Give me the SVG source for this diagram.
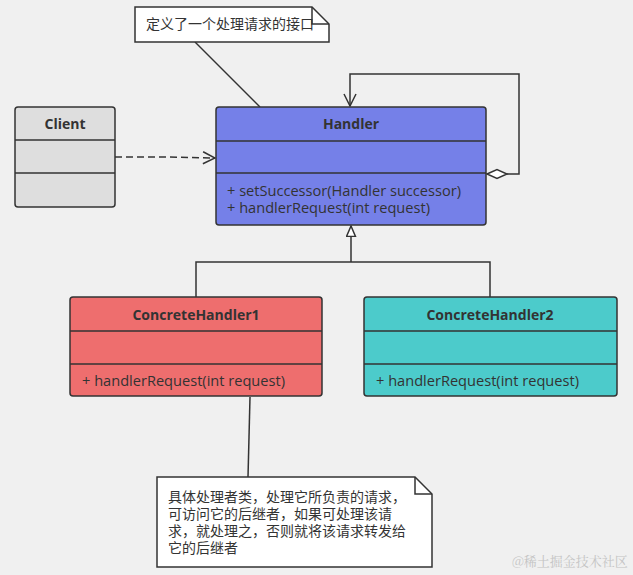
<svg xmlns="http://www.w3.org/2000/svg" width="633" height="575" viewBox="0 0 633 575">
<defs>
<style>
.box{stroke:#333;stroke-width:1.5}
.div{stroke:#333;stroke-width:1.5;fill:none}
.ln{stroke:#333;stroke-width:1.5;fill:none}
.title{font-family:"Open Sans","Liberation Sans",sans-serif;font-weight:bold;font-size:14px;fill:#333;text-anchor:middle}
.m{font-family:"Open Sans","Liberation Sans",sans-serif;font-size:14.6px;fill:#333}
.cn{font-family:"Noto Sans CJK SC",sans-serif;font-size:14px;fill:#333}
</style>
<marker id="open" markerWidth="14" markerHeight="14" refX="13" refY="7" orient="auto" markerUnits="userSpaceOnUse">
<path d="M1,1 L13,7 L1,13" fill="none" stroke="#333" stroke-width="1.5"/>
</marker>
<marker id="tri" markerWidth="12" markerHeight="16" refX="11" refY="5" orient="auto" markerUnits="userSpaceOnUse">
<path d="M11,5 L0.5,0.5 L0.5,9.5 Z" fill="#fff" stroke="#333" stroke-width="1.5"/>
</marker>
</defs>
<rect width="633" height="575" fill="#f0f0f0"/>

<g id="connectors">
<path class="ln" d="M195,42 L260,107"/>
<path class="ln" d="M115,157 L165,157 L215,158" stroke-dasharray="7,4" marker-end="url(#open)"/>
<path class="ln" d="M507,174 L519,174 L519,74 L350,74 L350,106" marker-end="url(#open)"/>
<path d="M487,174 L497,169.5 L507,174 L497,178.5 Z" fill="#fff" stroke="#333" stroke-width="1.5"/>
<path class="ln" d="M196,297 L196,262 L490,262 L490,297"/>
<path class="ln" d="M351,262 L351,226" marker-end="url(#tri)"/>
<path class="ln" d="M250,397 L248,477"/>
</g>

<g id="note-top">
<path class="box" fill="#fff" d="M135,7 L312,7 L329,24 L329,42 L135,42 Z"/>
<path class="ln" d="M312,7 L312,24 L329,24"/>
<text class="cn" x="146" y="29" font-size="14.5">定义了一个处理请求的接口</text>
</g>

<g id="client">
<rect class="box" x="15" y="107" width="100" height="100" rx="3" fill="#dedede"/>
<path class="div" d="M15,140 H115 M15,173 H115"/>
<text class="title" x="65" y="129">Client</text>
</g>

<g id="handler">
<rect class="box" x="216" y="107" width="270" height="118" rx="3" fill="#7580e8"/>
<path class="div" d="M216,141 H486 M216,173 H486"/>
<text class="title" x="351" y="129">Handler</text>
<text class="m" x="227" y="196">+ setSuccessor(Handler successor)</text>
<text class="m" x="227" y="213">+ handlerRequest(int request)</text>
</g>

<g id="concrete1">
<rect class="box" x="70" y="297" width="252" height="99" rx="3" fill="#ee6e6e"/>
<path class="div" d="M70,331 H322 M70,364 H322"/>
<text class="title" x="196" y="320">ConcreteHandler1</text>
<text class="m" x="82" y="386">+ handlerRequest(int request)</text>
</g>

<g id="concrete2">
<rect class="box" x="364" y="297" width="253" height="99" rx="3" fill="#4ccbcb"/>
<path class="div" d="M364,331 H617 M364,364 H617"/>
<text class="title" x="490" y="320">ConcreteHandler2</text>
<text class="m" x="376" y="386">+ handlerRequest(int request)</text>
</g>

<g id="note-bottom">
<path class="box" fill="#fff" d="M157,477 L415,477 L432,494 L432,567 L157,567 Z"/>
<path class="ln" d="M415,477 L415,494 L432,494"/>
<text class="cn" x="168" y="502">具体处理者类，处理它所负责的请求，<tspan x="168" dy="17">可访问它的后继者，如果可处理该请</tspan><tspan x="168" dy="17">求，就处理之，否则就将该请求转发给</tspan><tspan x="168" dy="17">它的后继者</tspan></text>
</g>

<text x="512" y="566" font-family="Noto Serif CJK SC,Noto Sans CJK SC,serif" font-size="13" fill="#c4c4c4">@稀土掘金技术社区</text>
</svg>
